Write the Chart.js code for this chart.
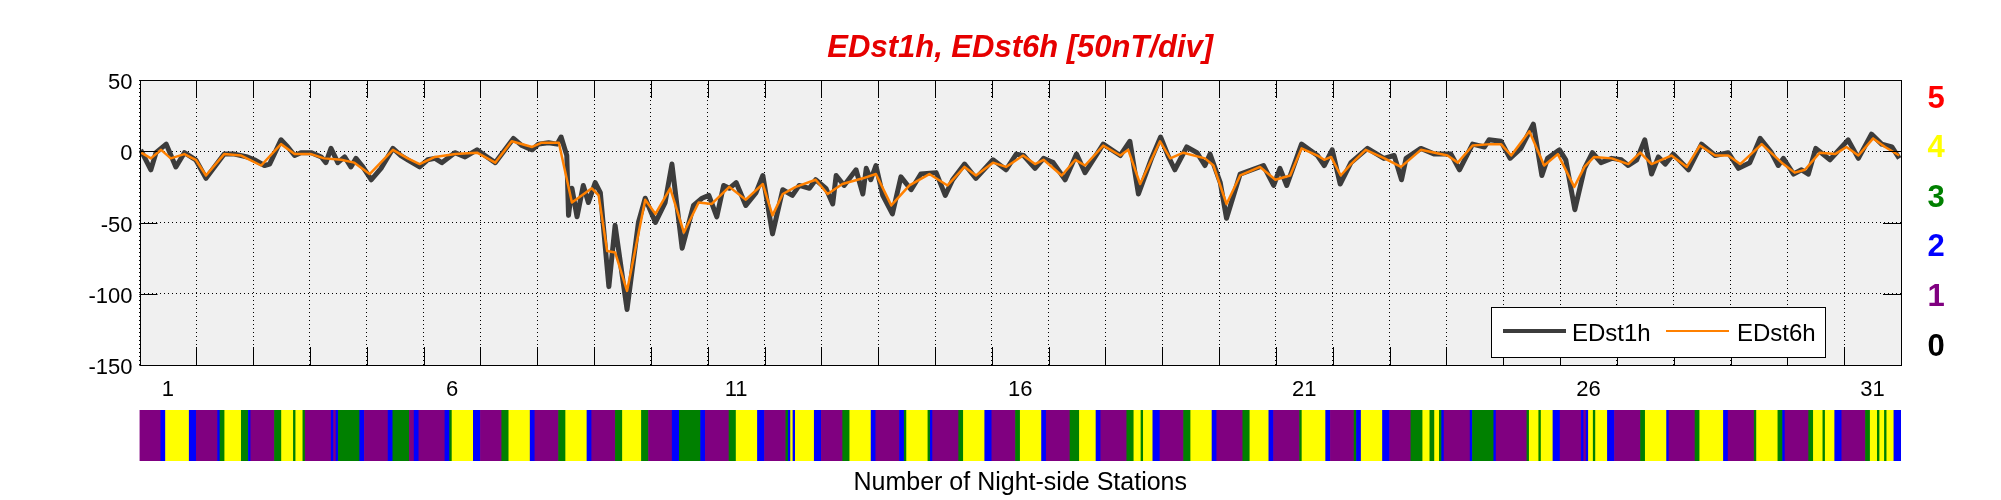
<!DOCTYPE html>
<html>
<head>
<meta charset="utf-8">
<script src="https://cdn.jsdelivr.net/npm/chart.js@4/dist/chart.umd.min.js"></script>
<style>
html,body{margin:0;padding:0;background:#fff;}
#wrap{position:relative;width:2001px;height:500px;overflow:hidden;}
#main{position:absolute;left:0;top:0;width:2001px;height:500px;}
#stations{position:absolute;left:0;top:400px;width:2001px;height:100px;}
</style>
</head>
<body>
<div id="wrap">
<canvas id="main" width="2001" height="500"></canvas>
<canvas id="stations" width="2001" height="100"></canvas>
</div>
<script>
// ---------------- data ----------------
const TITLE = 'EDst1h, EDst6h [50nT/div]';
const STATION_TITLE = 'Number of Night-side Stations';
const NUM_DAYS = 31;              // days 1..31 on the x axis
const Y_MIN = -150, Y_MAX = 50, Y_STEP = 50;
const seriesLabels = ['EDst1h', 'EDst6h'];

// EDst1h : time (days since start of day 1) and value (nT)
const ed1hDay = [0.02,0.20,0.29,0.47,0.64,0.79,0.99,1.17,1.49,1.67,1.90,2.02,2.20,2.29,2.49,2.61,2.73,2.84,3.02,3.20,3.28,3.37,3.49,3.61,3.72,3.81,3.93,4.08,4.25,4.46,4.60,4.72,4.93,5.07,
5.20,5.32,5.55,5.73,5.94,6.08,6.26,6.58,6.73,6.91,7.02,7.20,7.35,7.42,7.52,7.55,7.61,7.70,7.81,7.90,8.02,8.11,8.26,8.37,8.58,8.78,8.90,9.08,9.25,9.37,9.55,9.75,9.90,10.02,10.16,10.28,
10.38,10.50,10.67,10.85,10.97,11.14,11.32,11.49,11.61,11.79,11.90,12.08,12.20,12.26,12.40,12.61,12.73,12.79,12.87,12.96,13.08,13.25,13.40,13.58,13.75,14.02,14.18,14.31,14.52,14.72,15.02,15.25,15.43,
15.56,15.76,15.91,16.08,16.29,16.49,16.64,16.96,17.26,17.43,17.58,17.81,17.97,18.11,18.22,18.43,18.61,18.75,18.84,19.02,19.13,19.37,19.78,19.96,20.07,20.19,20.45,
20.73,20.85,20.99,21.13,21.32,21.61,21.90,22.08,22.21,22.29,22.55,22.79,23.08,23.23,23.46,23.67,23.75,23.96,24.12,24.31,24.53,24.68,24.78,24.99,25.10,25.26,25.43,25.57,25.72,
25.91,26.08,26.20,26.35,26.49,26.61,26.73,26.85,26.99,27.26,27.49,27.73,27.96,28.14,28.34,28.52,28.72,28.84,28.93,29.11,29.25,29.37,29.50,29.75,30.07,30.25,30.48,30.66,30.84,30.97];
const ed1hValue = [1,-13,-1,5,-11,-1,-6,-19,-2,-2,-4,-6,-10,-9,8,3,-3,-1,-1,-4,-8,2,-8,-4,-11,-5,-11,-20,-12,2,-3,-6,-11,-6,
-5,-8,-1,-4,1,-3,-8,9,4,1,5,6,5,10,-3,-45,-26,-46,-24,-36,-22,-29,-95,-52,-111,-50,-33,-50,-36,-9,-68,-38,-33,-31,-46,-24,
-26,-22,-38,-29,-17,-58,-27,-31,-24,-26,-20,-26,-37,-17,-24,-13,-30,-12,-20,-10,-31,-44,-18,-27,-16,-15,-31,-20,-9,-19,-6,-13,-2,
-3,-12,-5,-8,-20,-2,-15,5,-3,7,-30,-5,10,-4,-13,3,-1,-10,-2,-22,-47,-16,-10,-24,-12,-24,5,
-3,-10,1,-23,-8,2,-5,-3,-20,-5,2,-2,-2,-13,5,3,8,7,-5,2,19,-17,-5,1,-6,-41,-12,-1,-8,
-5,-6,-10,-6,8,-16,-4,-9,-2,-13,5,-3,-1,-12,-8,9,-1,-10,-5,-16,-13,-16,2,-6,8,-5,12,5,3,-5];

// EDst6h : time (days) and value (nT)
const ed6hDay = [0.03,0.20,0.38,0.55,0.79,0.99,1.17,1.49,1.79,2.14,2.49,2.73,3.02,3.25,3.55,3.78,4.05,4.46,4.72,4.93,
5.20,5.56,5.94,6.26,6.55,6.91,7.08,7.38,7.61,7.96,8.08,8.23,8.37,8.58,8.90,9.08,9.34,9.58,9.84,10.07,
10.38,10.67,10.97,11.14,11.32,11.55,11.90,12.11,12.37,12.73,12.96,13.23,13.55,13.90,14.22,14.52,14.72,15.02,15.25,
15.55,15.76,15.91,16.23,16.47,16.64,16.96,17.26,17.40,17.61,17.96,18.14,18.37,18.75,18.90,19.13,19.37,19.72,19.99,20.25,20.45,
20.73,20.85,20.97,21.14,21.32,21.58,21.91,22.20,22.55,23.02,23.20,23.46,23.78,23.96,24.14,24.46,24.72,24.96,25.25,25.43,25.60,
25.91,26.20,26.41,26.61,26.96,27.23,27.46,27.73,27.96,28.17,28.55,28.90,29.13,29.31,29.57,29.84,30.04,30.25,30.51,30.72,30.97];
const ed6hValue = [-1,-5,1,-5,-2,-6,-17,-2,-3,-10,5,-2,-2,-5,-6,-8,-16,1,-5,-9,
-4,-2,-1,-8,7,3,6,6,-36,-26,-31,-70,-71,-98,-34,-44,-26,-57,-36,-37,
-25,-34,-23,-45,-30,-25,-20,-30,-23,-19,-16,-38,-24,-16,-24,-11,-17,-8,-11,
-3,-9,-6,-17,-6,-10,4,-3,1,-23,7,-5,-1,-5,-10,-37,-17,-11,-20,-17,2,
-3,-6,-4,-17,-9,1,-5,-11,1,-3,-8,4,5,5,-3,14,-10,-2,-25,-11,-4,
-5,-9,-1,-9,-3,-11,4,-3,-3,-9,5,-8,-15,-13,-1,-2,3,-3,9,3,-3];

// Number of night-side stations, as runs: start hour and station count (run ends where next starts)
const stationRunStartHour = [0,9,11,21,24,33,34,36,43,46,47,57,60,65,66,69,70,81,82,83,84,93,95,105,107,114,116,118,129,131,132,141,144,153,156,165,167,177,180,189,191,201,204,212,215,225,228,237,239,249,252,261,264,273,274,275,276,277,285,288,297,300,309,311,321,323,324,333,334,335,346,348,357,360,370,372,381,383,393,397,404,406,417,420,423,424,428,431,441,444,453,455,466,469,477,479,490,491,501,503,513,514,516,525,528,537,542,545,547,549,550,551,562,563,572,573,586,587,591,592,597,600,609,610,611,612,614,615,620,623,634,636,645,646,657,659,669,671,682,683,692,694,695,705,707,711,712,716,719,729,731,734,735,737,738,741];
const stationRunCount   = [1,2,4,2,1,2,3,4,3,2,1,3,4,3,4,3,1,2,1,2,3,2,1,2,3,1,2,1,2,3,4,2,1,3,4,2,1,3,4,2,1,3,4,3,1,2,3,2,1,3,4,2,1,3,2,4,2,4,2,1,3,4,2,1,2,3,4,3,2,1,3,4,2,1,3,4,2,1,3,4,2,1,3,4,3,4,2,1,3,4,2,1,3,4,2,1,3,4,2,1,3,2,4,2,1,3,4,3,4,3,2,1,2,3,2,1,3,4,3,4,2,1,2,1,2,4,3,4,2,1,3,4,2,1,3,4,2,1,3,4,3,2,1,3,4,3,4,2,1,3,4,3,4,3,4,2];
const STATION_END_HOUR = 744;
const stationLevels = [5,4,3,2,1,0];
const stationColors = ['#000000','#800080','#0000ff','#008000','#ffff00','#ff0000'];

// ---------------- drawing ----------------
const FONT = '"Liberation Sans", Arial, Helvetica, sans-serif';
Chart.defaults.font.family = FONT;
Chart.defaults.color = '#000';

const GRID_DASH = [1,3];
const mainDecor = {
  id: 'mainDecor',
  beforeDraw(chart) {
    const {ctx, chartArea: a} = chart;
    ctx.save();
    ctx.fillStyle = '#f0f0f0';
    ctx.fillRect(a.left, a.top, a.right - a.left, a.bottom - a.top);
    ctx.restore();
  },
  afterDraw(chart) {
    const {ctx, chartArea: a, scales: {x, y}} = chart;
    ctx.save();
    // title
    ctx.fillStyle = '#e60000';
    ctx.font = 'italic bold 31px ' + FONT;
    ctx.textAlign = 'center';
    ctx.textBaseline = 'middle';
    ctx.fillText(TITLE, (a.left + a.right) / 2, 48);
    // inward tick marks
    ctx.strokeStyle = '#000';
    ctx.lineWidth = 1;
    ctx.beginPath();
    const L = 18;
    for (const t of x.ticks) {
      const px = Math.round(x.getPixelForValue(t.value)) + 0.5;
      ctx.moveTo(px, a.top); ctx.lineTo(px, a.top + L);
      ctx.moveTo(px, a.bottom); ctx.lineTo(px, a.bottom - L);
    }
    for (const t of y.ticks) {
      const py = Math.round(y.getPixelForValue(t.value)) + 0.5;
      ctx.moveTo(a.left, py); ctx.lineTo(a.left + L, py);
      ctx.moveTo(a.right, py); ctx.lineTo(a.right - L, py);
    }
    ctx.stroke();
    // frame
    const l = Math.round(a.left) + 0.5, tp = Math.round(a.top) + 0.5;
    ctx.strokeRect(l, tp, Math.round(a.right) - Math.round(a.left), Math.round(a.bottom) - Math.round(a.top));
    // legend
    const bx = 1491, by = 307, bw = 334, bh = 50;
    ctx.fillStyle = '#fff';
    ctx.fillRect(bx, by, bw, bh);
    ctx.strokeStyle = '#000';
    ctx.lineWidth = 1;
    ctx.strokeRect(bx + 0.5, by + 0.5, bw, bh);
    const items = [
      {ds: chart.data.datasets[0], x0: 1503, tx: 1572},
      {ds: chart.data.datasets[1], x0: 1666, tx: 1737}
    ];
    ctx.font = '24px ' + FONT;
    ctx.textAlign = 'left';
    ctx.textBaseline = 'middle';
    for (const it of items) {
      ctx.strokeStyle = it.ds.borderColor;
      ctx.lineWidth = it.ds === chart.data.datasets[0] ? 4 : 2;
      ctx.beginPath();
      ctx.moveTo(it.x0, 331); ctx.lineTo(it.x0 + 63, 331);
      ctx.stroke();
      ctx.fillStyle = '#000';
      ctx.fillText(it.ds.label, it.tx, 334);
    }
    // station count colour key
    ctx.font = 'bold 31px ' + FONT;
    ctx.textAlign = 'center';
    for (const lv of stationLevels) {
      ctx.fillStyle = stationColors[lv];
      ctx.fillText(String(lv), 1936, 347 - lv * 49.6);
    }
    ctx.restore();
  }
};

const mainChart = new Chart(document.getElementById('main'), {
  type: 'line',
  data: {
    datasets: [
      {
        label: seriesLabels[0],
        data: ed1hDay.map((d, i) => ({x: d, y: ed1hValue[i]})),
        borderColor: '#3c3c3c',
        borderWidth: 5,
        pointRadius: 0,
        tension: 0,
        borderJoinStyle: 'round',
        order: 2
      },
      {
        label: seriesLabels[1],
        data: ed6hDay.map((d, i) => ({x: d, y: ed6hValue[i]})),
        borderColor: '#ff8000',
        borderWidth: 2.5,
        pointRadius: 0,
        tension: 0,
        borderJoinStyle: 'round',
        order: 1
      }
    ]
  },
  options: {
    responsive: false,
    animation: false,
    events: [],
    layout: {padding: {left: 0, right: 100, top: 80, bottom: 0}},
    plugins: {legend: {display: false}, tooltip: {enabled: false}, title: {display: false}},
    scales: {
      x: {
        type: 'linear',
        min: 0,
        max: NUM_DAYS,
        ticks: {
          stepSize: 1,
          autoSkip: false,
          maxRotation: 0,
          padding: 12,
          labelOffset: 28.4,
          font: {size: 22},
          color: '#000',
          callback: (v) => (v % 5 === 0 && v < NUM_DAYS) ? String(v + 1) : ''
        },
        grid: {color: '#000', lineWidth: 1, drawTicks: false},
        border: {display: false, dash: GRID_DASH},
        afterFit(s) { s.height = 135; }
      },
      y: {
        min: Y_MIN,
        max: Y_MAX,
        ticks: {stepSize: Y_STEP, padding: 7, labelOffset: 3, font: {size: 22}, color: '#000'},
        grid: {color: '#000', lineWidth: 1, drawTicks: false},
        border: {display: false, dash: GRID_DASH},
        afterFit(s) { s.width = 139.5; }
      }
    }
  },
  plugins: [mainDecor]
});

// station bar
const stationData = stationRunStartHour.map((h, i) => {
  const end = i + 1 < stationRunStartHour.length ? stationRunStartHour[i + 1] : STATION_END_HOUR;
  return {x: [h / 24, end / 24], y: 'N'};
});
new Chart(document.getElementById('stations'), {
  type: 'bar',
  data: {
    labels: ['N'],
    datasets: [{
      data: stationData,
      backgroundColor: stationRunCount.map(c => stationColors[c]),
      borderWidth: 0,
      barPercentage: 1,
      categoryPercentage: 1
    }]
  },
  options: {
    indexAxis: 'y',
    responsive: false,
    animation: false,
    events: [],
    layout: {padding: {left: 139.5, right: 100, top: 10, bottom: 0}},
    plugins: {legend: {display: false}, tooltip: {enabled: false}},
    scales: {
      x: {
        type: 'linear',
        min: 0,
        max: NUM_DAYS,
        grid: {display: false},
        border: {display: false},
        ticks: {display: false},
        title: {display: true, text: STATION_TITLE, font: {size: 25}, color: '#000', padding: {top: 0, bottom: 2}},
        afterFit(s) { s.height = 39; }
      },
      y: {display: false}
    }
  }
});
</script>
</body>
</html>
